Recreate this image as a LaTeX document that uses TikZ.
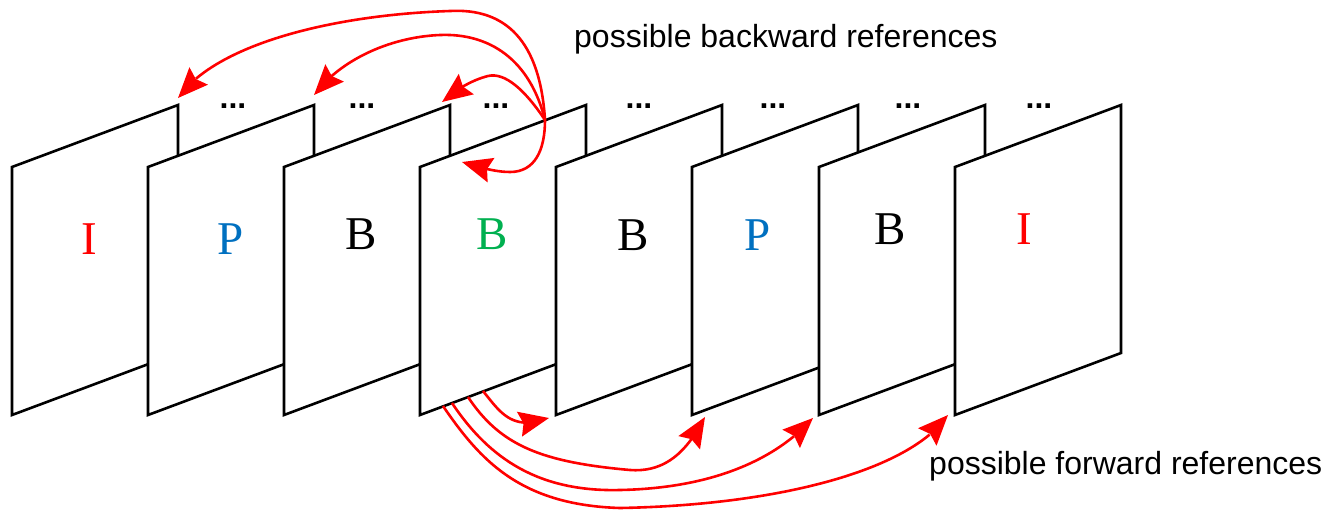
\documentclass[tikz,border=0pt]{standalone}
\usepackage{fontspec}
\setmainfont{Liberation Serif}
\newfontfamily\labelfont{Liberation Sans}
\usetikzlibrary{arrows.meta,bending}
\definecolor{refred}{RGB}{255,0,0}
\definecolor{pblue}{RGB}{0,112,192}
\definecolor{bgreen}{RGB}{0,176,80}
\begin{document}
\begin{tikzpicture}[x=1pt,y=-1pt,
  frame/.style={draw=black,fill=white,line width=2.6pt,line join=miter},
  letter/.style={anchor=base,inner sep=0pt,font=\fontsize{47}{47}\selectfont},
  gapdots/.style={anchor=base,inner sep=0pt,font=\labelfont\bfseries\fontsize{32}{32}\selectfont},
  caption/.style={anchor=base west,inner sep=0pt,font=\labelfont\fontsize{32}{38}\selectfont},
  ref/.style={draw=refred,line width=2.6pt,
    -{Stealth[length=30pt,width=25pt,inset=4pt,fill=refred,flex]}}]
\useasboundingbox (0,0) rectangle (1323,512);

% the eight frames, each drawn over the one before it
\foreach \x/\n in {12/1,148/2,284/3,420/4,556/5,692/6,819/7,955/8}{
  \draw[frame] (\x,415) -- (\x,167) -- (\x+166,105) -- (\x+166,353) -- cycle;
}

% frame types
\node[letter,text=refred] (t1) at (89,254) {I};
\node[letter,text=pblue]  (t2) at (231,254) {P};
\node[letter]             (t3) at (361,249) {B};
\node[letter,text=bgreen] (t4) at (492,249) {B};
\node[letter]             (t5) at (633,250) {B};
\node[letter,text=pblue]  (t6) at (758,250) {P};
\node[letter]             (t7) at (890,244) {B};
\node[letter,text=refred] (t8) at (1024,244) {I};

% frames left out between the ones shown
\foreach \x/\n in {233/1,362/2,496/3,639/4,773/5,908/6,1039/7}{
  \node[gapdots] (d\n) at (\x,108) {...};
}

% captions
\node[caption] (back) at (574,47) {possible backward references};
\node[caption] (fwd) at (929,474) {possible forward references};

% reference points on the frames
\coordinate (src) at (545,120);
\coordinate (b1) at (178,98);
\coordinate (b2) at (314,95);
\coordinate (b3) at (442,102);
\coordinate (b4) at (462,162);
\coordinate (s1) at (483,391);
\coordinate (s2) at (468,397);
\coordinate (s3) at (452,403);
\coordinate (s4) at (443,406);
\coordinate (e1) at (549,418);
\coordinate (e2) at (705,417);
\coordinate (e3) at (813,418);
\coordinate (e4) at (948,415);

% backward references
\draw[ref] (src) .. controls (540,40) and (505,8) .. (450,11)
                 .. controls (330,15) and (215,45) .. (b1);
\draw[ref] (src) .. controls (530,60) and (490,33) .. (440,35)
                 .. controls (390,37) and (340,60) .. (b2);
\draw[ref] (src) .. controls (525,90) and (505,72) .. (488,76)
                 .. controls (472,80) and (455,90) .. (b3);
\draw[ref] (src) .. controls (545,150) and (535,172) .. (510,172)
                 .. controls (495,172) and (478,167) .. (b4);

% forward references
\draw[ref] (s1) .. controls (500,412) and (512,432) .. (e1);
\draw[ref] (s2) .. controls (500,445) and (540,462) .. (630,470)
                .. controls (670,473) and (690,445) .. (e2);
\draw[ref] (s3) .. controls (490,460) and (540,492) .. (620,490)
                .. controls (720,488) and (780,455) .. (e3);
\draw[ref] (s4) .. controls (480,460) and (520,505) .. (620,508)
                .. controls (780,505) and (910,470) .. (e4);
\end{tikzpicture}
\end{document}
